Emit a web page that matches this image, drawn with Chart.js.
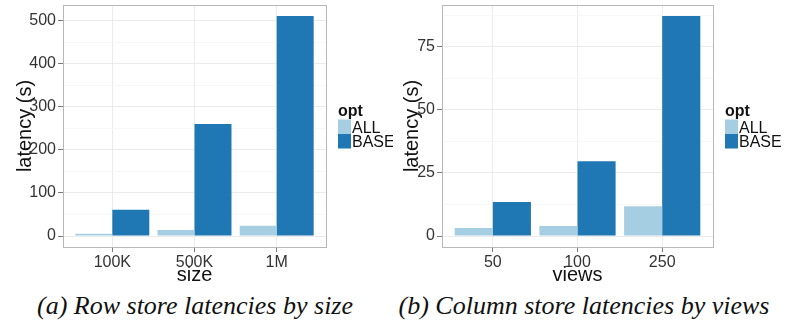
<!DOCTYPE html>
<html>
<head>
<meta charset="utf-8">
<script src="https://cdn.jsdelivr.net/npm/chart.js@4.4.1/dist/chart.umd.min.js"></script>
<style>
  html, body { margin: 0; padding: 0; background: #fff; }
  body { width: 787px; height: 329px; position: relative; overflow: hidden; }
  .panel { position: absolute; top: 0; }
  .caption {
    position: absolute; top: 293px; line-height: 26px; text-align: center;
    font-family: "Liberation Serif", "DejaVu Serif", serif; font-style: italic;
    font-size: 26px; color: #111; white-space: nowrap;
  }
</style>
</head>
<body>
<div class="panel" style="left:0;width:393px;height:290px"><canvas id="rowChart" width="393" height="290"></canvas></div>
<div class="panel" style="left:393px;width:394px;height:290px"><canvas id="colChart" width="394" height="290"></canvas></div>
<div class="caption" style="left:0;width:390px">(a) Row store latencies by size</div>
<div class="caption" style="left:390px;width:388px">(b) Column store latencies by views</div>

<script>
// Row store: latency (s) by table size
const sizeLabels = ['100K', '500K', '1M'];
const rowAll = [5, 14, 24];
const rowBase = [61, 260, 511];
const rowTicks = [0, 100, 200, 300, 400, 500];
const rowMinor = [50, 150, 250, 350, 450];

// Column store: latency (s) by number of views
const viewLabels = ['50', '100', '250'];
const colAll = [3.2, 4.0, 11.8];
const colBase = [13.5, 29.6, 87.2];
const colTicks = [0, 25, 50, 75];
const colMinor = [12.5, 37.5, 62.5, 87.5];

const seriesNames = ['ALL', 'BASE'];
const seriesColors = ['#a6cee3', '#1f78b4'];

const SANS = '"Liberation Sans", Arial, Helvetica, sans-serif';

// panel frame and the "opt" legend to the right of the panel
const framePlugin = {
  id: 'frame',
  afterDraw(chart) {
    const { ctx, chartArea: a } = chart;
    ctx.save();
    ctx.strokeStyle = '#b8b8b8';
    ctx.lineWidth = 1;
    ctx.strokeRect(Math.round(a.left) + 0.5, Math.round(a.top) + 0.5,
                   Math.round(a.right - a.left), Math.round(a.bottom - a.top));
    const kx = a.right + 12, ky = 119.5, kw = 13, kh = 14.5;
    ctx.fillStyle = '#111';
    ctx.font = 'bold 16px ' + SANS;
    ctx.textBaseline = 'alphabetic';
    ctx.fillText('opt', kx, 116);
    ctx.font = '16px ' + SANS;
    chart.data.datasets.forEach((ds, i) => {
      ctx.fillStyle = ds.backgroundColor;
      ctx.fillRect(kx, ky + i * kh, kw, kh);
      ctx.fillStyle = '#111';
      ctx.fillText(ds.label, kx + kw + 1, ky + i * kh + kh / 2 + 6);
    });
    ctx.restore();
  }
};

function makeChart(id, labels, allVals, baseVals, ticks, minor, xTitle, axisW, rightPad, yTitlePad) {
  const maxV = Math.max(...allVals, ...baseVals);
  const yMin = -0.05 * maxV, yMax = 1.05 * maxV;
  const n = labels.length;
  const toPts = vals => vals.map((v, i) => ({ x: i, y: v }));
  const tickSet = new Set(ticks);
  return new Chart(document.getElementById(id), {
    type: 'bar',
    data: {
      datasets: [
        { label: seriesNames[0], data: toPts(allVals), backgroundColor: seriesColors[0] },
        { label: seriesNames[1], data: toPts(baseVals), backgroundColor: seriesColors[1] }
      ]
    },
    options: {
      responsive: false,
      animation: false,
      devicePixelRatio: 1,
      layout: { padding: { left: 0, top: 5, right: rightPad, bottom: 0 } },
      datasets: { bar: { barPercentage: 1, categoryPercentage: 0.9, borderWidth: 0 } },
      plugins: { legend: { display: false }, tooltip: { enabled: false } },
      scales: {
        x: {
          type: 'linear',
          offset: false,
          min: -0.6,
          max: n - 1 + 0.6,
          afterBuildTicks: s => { s.ticks = labels.map((_, i) => ({ value: i })); },
          afterFit: s => { s.height = 43; s.paddingLeft = 0; s.paddingRight = 0; },
          grid: { offset: false, color: '#ebebeb', tickColor: '#7a7a7a', tickLength: 5, lineWidth: 1 },
          border: { display: false },
          ticks: {
            autoSkip: false, maxRotation: 0, padding: 1,
            color: '#333', font: { family: SANS, size: 16 },
            callback: v => labels[v]
          },
          title: {
            display: true, text: xTitle, color: '#111',
            font: { family: SANS, size: 20 }, padding: { top: 0, bottom: 3 }
          }
        },
        y: {
          min: yMin,
          max: yMax,
          afterBuildTicks: s => {
            s.ticks = [...ticks, ...minor].sort((a, b) => a - b).map(v => ({ value: v }));
          },
          afterFit: s => { s.width = axisW; s.paddingTop = 0; s.paddingBottom = 0; },
          grid: {
            color: c => tickSet.has(c.tick.value) ? '#ebebeb' : '#f7f7f7',
            tickColor: c => tickSet.has(c.tick.value) ? '#7a7a7a' : 'rgba(0,0,0,0)',
            tickLength: 5, lineWidth: 1
          },
          border: { display: false },
          ticks: {
            autoSkip: false, padding: 2,
            color: '#333', font: { family: SANS, size: 16 },
            callback: v => tickSet.has(v) ? String(v) : ''
          },
          title: {
            display: true, text: 'latency (s)', color: '#111',
            font: { family: SANS, size: 20 }, padding: { top: yTitlePad, bottom: 0 }
          }
        }
      }
    },
    plugins: [framePlugin]
  });
}

makeChart('rowChart', sizeLabels, rowAll, rowBase, rowTicks, rowMinor, 'size', 63, 67, 13);
makeChart('colChart', viewLabels, colAll, colBase, colTicks, colMinor, 'views', 49, 74, 7);
</script>
</body>
</html>
